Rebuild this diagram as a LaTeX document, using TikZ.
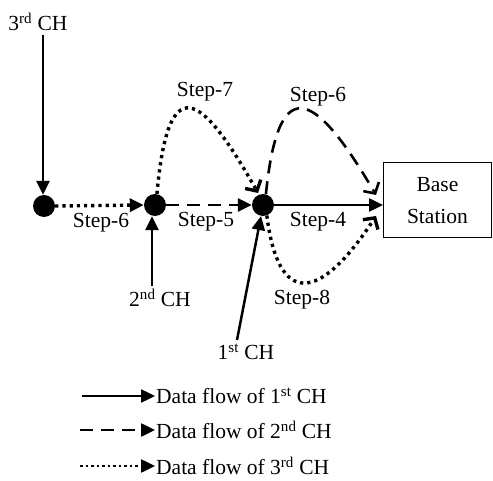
\documentclass[tikz,border=0pt]{standalone}
\usepackage{fontspec}
\setmainfont{Liberation Serif}
\usetikzlibrary{arrows.meta,positioning}
\begin{document}
\begin{tikzpicture}
  [x=1pt,y=-1pt
  ,font=\fontsize{21.5}{32}\selectfont
  ,chnode/.style={circle,fill=black,minimum size=22pt,inner sep=0pt}
  ,flow/.style={line width=2.5pt,-{Triangle[length=14pt,width=13pt]}}
  ,barbflow/.style={line width=2.6pt,-{Straight Barb[length=8pt,width=18pt]}}
  ,dashflow/.style={dash pattern=on 13pt off 8pt}
  ,dotflow/.style={line width=3.4pt,dash pattern=on 3.2pt off 4pt}
  ,lbl/.style={inner sep=1pt}
  ]

  \useasboundingbox (0,0) rectangle (493,481);

  % cluster heads
  \node (a) [chnode] at (44,206) {};
  \node (b) [chnode] at (155,205) {};
  \node (c) [chnode] at (263,205) {};

  % base station
  \node (bs) [draw,line width=1pt,minimum width=108pt,minimum height=75pt,
    align=center] at (437.5,200.5) {Base\\Station};

  % CH labels
  \node (ch3) [lbl] at (38,22) {3\textsuperscript{rd} CH};
  \node (ch2) [lbl] at (160,298) {2\textsuperscript{nd} CH};
  \node (ch1) [lbl] at (246,352) {1\textsuperscript{st} CH};

  \coordinate (ch3e) at (43,35);
  \coordinate (ch2e) at (152,286);
  \coordinate (ch1e) at (237,340);

  \draw[flow] (ch3e) -- (a.north -| ch3e);
  \draw[flow] (ch2e) -- (b.south -| ch2e);
  \draw[flow] (ch1e) -- (c.-100);

  % straight steps
  \draw[flow,dotflow] (a.east) -- (b.west);
  \draw[flow,dashflow] (b.east) -- (c.west);
  \draw[flow] (c.east) -- (bs.west |- c);

  % curved steps
  \draw[barbflow,dotflow] (b.80) .. controls (168,70) and (200,90) .. (258,193);
  \draw[barbflow,dashflow] (c.75) .. controls (278,75) and (312,85) .. (376,195);
  \draw[barbflow,dotflow] (c.-70) .. controls (278,305) and (318,305) .. (376,216);

  % step labels
  \node (s6a) [lbl] at (101,223) {Step-6};
  \node (s5) [lbl] at (206,222) {Step-5};
  \node (s4) [lbl] at (318,222) {Step-4};
  \node (s7) [lbl] at (205,92) {Step-7};
  \node (s6b) [lbl] at (318,97) {Step-6};
  \node (s8) [lbl] at (302,300) {Step-8};

  % legend
  \node (l1) [lbl,anchor=west] at (155,396) {Data flow of 1\textsuperscript{st} CH};
  \node (l2) [lbl,anchor=west] at (155,430) {Data flow of 2\textsuperscript{nd} CH};
  \node (l3) [lbl,anchor=west] at (155,466) {Data flow of 3\textsuperscript{rd} CH};
  \coordinate (l1s) at (82,396);
  \coordinate (l2s) at (80,430);
  \coordinate (l3s) at (80,466);
  \draw[flow] (l1s) -- (l1.west);
  \draw[flow,dashflow] (l2s) -- (l2.west);
  \draw[flow,line width=2.5pt,dash pattern=on 2.5pt off 3pt] (l3s) -- (l3.west);

\end{tikzpicture}
\end{document}
